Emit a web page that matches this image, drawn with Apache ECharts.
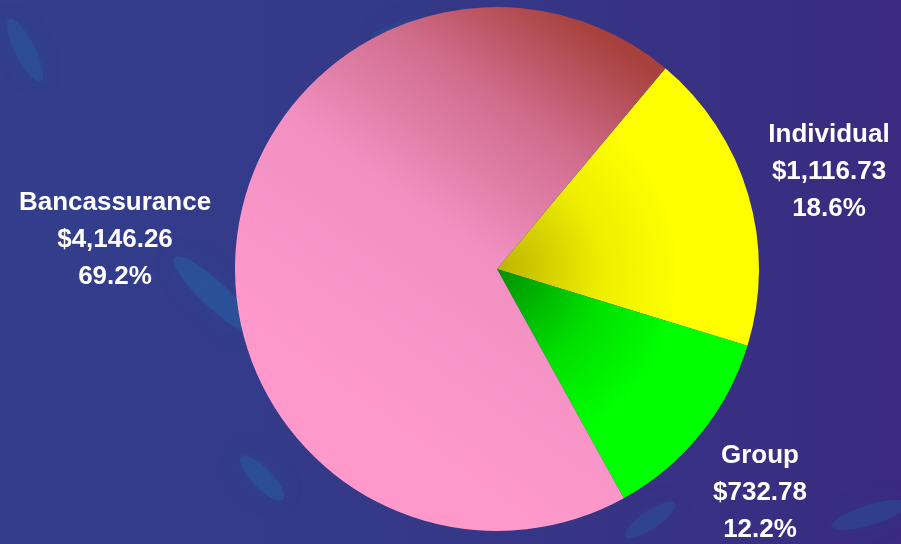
<!DOCTYPE html>
<html>
<head>
<meta charset="utf-8">
<script src="https://cdn.jsdelivr.net/npm/echarts@6/dist/echarts.min.js"></script>
<style>
    html, body { margin: 0; padding: 0; }
    #chart { width: 901px; height: 544px; }
</style>
</head>
<body>
<div id="chart"></div>
<script>
const categories = ["Individual", "Group", "Bancassurance"]
const amounts = [1116.73, 732.78, 4146.26]
const shares = ["18.6%", "12.2%", "69.2%"]

const cx = 497, cy = 269, r = 262

function radial(inner, mid, outer) {
    return new echarts.graphic.RadialGradient(cx, cy, r, [
        { offset: 0, color: inner },
        { offset: 0.4, color: mid },
        { offset: 0.7, color: outer },
        { offset: 1, color: outer }
    ], true)
}

const colors = [
    radial("#bcb400", "#eeee00", "#ffff00"),
    radial("#009000", "#00e000", "#00ff00"),
    new echarts.graphic.LinearGradient(0.25, 0.75, 0.85, 0.05, [
        { offset: 0, color: "#ff99cc" },
        { offset: 0.45, color: "#f290c2" },
        { offset: 0.75, color: "#d06c8c" },
        { offset: 1, color: "#a8403c" }
    ])
]

// label spots (centre of each text block)
const labelPos = [[829, 172], [760, 493], [115, 240]]

function streak(x, y, w, h, rot, op) {
    return {
        type: "ellipse", z: -10, silent: true,
        x: x, y: y, rotation: rot,
        shape: { cx: 0, cy: 0, rx: w, ry: h },
        style: { fill: "rgba(30,120,180," + op + ")", shadowBlur: 25, shadowColor: "rgba(30,120,180,0.5)" }
    }
}

let myChart = echarts.init(document.getElementById("chart"))
myChart.setOption({
    backgroundColor: new echarts.graphic.LinearGradient(0, 0, 1, 0, [
        { offset: 0, color: "#323e8c" },
        { offset: 0.5, color: "#353887" },
        { offset: 1, color: "#3a2a80" }
    ]),
    graphic: [
        streak(25, 50, 35, 10, -1.1, 0.22),
        streak(215, 295, 55, 13, -0.75, 0.3),
        streak(262, 478, 30, 10, -0.8, 0.28),
        streak(870, 515, 40, 10, 0.3, 0.22),
        streak(650, 520, 30, 9, 0.6, 0.22),
        streak(410, 30, 40, 10, 0.2, 0.15)
    ],
    series: [{
        type: "pie",
        center: [cx, cy],
        radius: r,
        startAngle: 50,
        clockwise: true,
        silent: true,
        data: categories.map((name, i) => ({
            name: name,
            value: amounts[i],
            itemStyle: { color: colors[i] }
        })),
        label: {
            show: true,
            position: "outside",
            overflow: "none",
            width: 260,
            color: "#ffffff",
            fontFamily: "Liberation Sans, Arial, sans-serif",
            fontWeight: "bold",
            fontSize: 26,
            lineHeight: 37,
            align: "center",
            formatter: function (p) {
                const v = "$" + amounts[p.dataIndex].toLocaleString("en-US", { minimumFractionDigits: 2 })
                return p.name + "\n" + v + "\n" + shares[p.dataIndex]
            }
        },
        labelLine: { show: false },
        labelLayout: function (p) {
            const pos = labelPos[p.dataIndex]
            return { x: pos[0], y: pos[1], align: "center", verticalAlign: "middle" }
        }
    }]
})
</script>
</body>
</html>
